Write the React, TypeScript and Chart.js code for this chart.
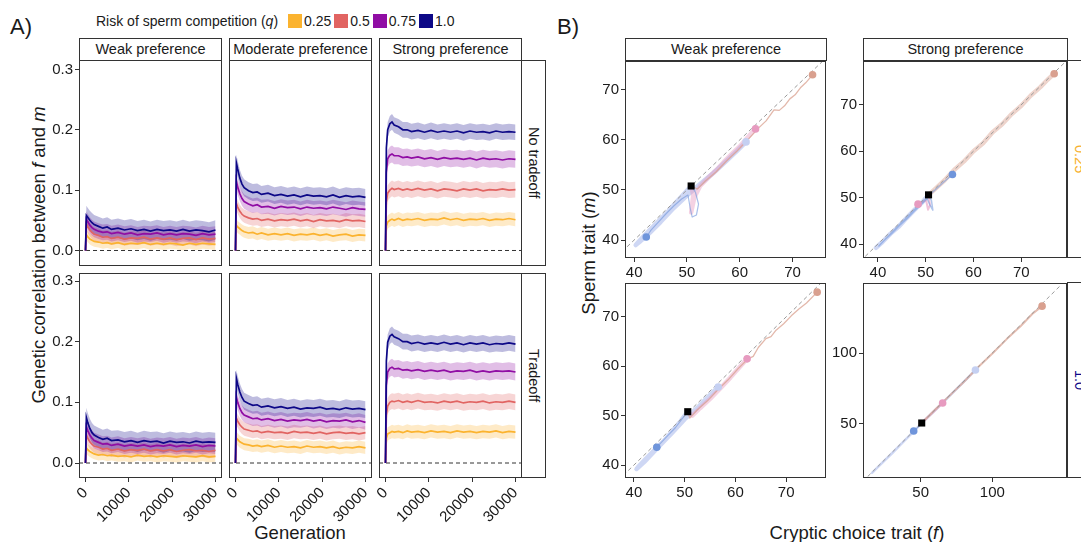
import React, { useEffect, useRef } from 'react';
import { Chart, registerables } from 'chart.js';

Chart.register(...registerables);

// ---------------- data ----------------
const Q_LEVELS = ['0.25', '0.5', '0.75', '1.0'];
const Q_COLORS = ['#FBB32F', '#E16462', '#900DA4', '#0D0887'];
const PREFS_A = ['Weak preference', 'Moderate preference', 'Strong preference'];
const TRADEOFF = ['No tradeoff', 'Tradeoff'];
const PREFS_B = ['Weak preference', 'Strong preference'];
const Q_B = ['0.25', '1.0'];
const Q_B_COLORS = ['#F7B12E', '#0D0887'];

const GEN_TICKS = [0, 10000, 20000, 30000];
const CORR_TICKS = [0, 0.1, 0.2, 0.3];

const GEN = [0, 200, 500, 1000, 1500, 2000, 3000, 4000, 5000, 6000, 7500, 9000, 10500, 12000, 13500, 15000, 16500, 18000, 19500, 21000, 22500, 24000, 25500, 27000, 28500, 30000];

// Weak preference, no tradeoff
const W0_Q25 = [0, .026, .023, .019, .017, .015, .014, .012, .013, .011, .013, .010, .012, .011, .013, .010, .012, .010, .012, .011, .009, .012, .010, .012, .011, .010];
const W0_Q50 = [0, .044, .040, .034, .030, .027, .025, .022, .023, .020, .022, .019, .021, .020, .022, .019, .021, .019, .021, .018, .020, .021, .018, .021, .019, .020];
const W0_Q75 = [0, .052, .048, .042, .038, .035, .032, .030, .031, .028, .030, .027, .029, .026, .028, .027, .029, .026, .028, .026, .028, .027, .025, .028, .026, .027];
const W0_Q100 = [0, .058, .055, .050, .046, .043, .040, .037, .039, .035, .037, .034, .036, .033, .035, .032, .035, .033, .034, .032, .035, .032, .034, .033, .031, .034];
// Weak preference, tradeoff
const W1_Q25 = [0, .025, .022, .019, .017, .015, .013, .014, .012, .013, .011, .012, .010, .013, .011, .012, .010, .012, .011, .010, .012, .011, .010, .012, .010, .011];
const W1_Q50 = [0, .046, .041, .035, .031, .028, .026, .023, .024, .021, .023, .020, .022, .021, .023, .020, .022, .020, .022, .019, .021, .022, .020, .021, .019, .021];
const W1_Q75 = [0, .060, .054, .046, .041, .037, .034, .031, .032, .029, .031, .028, .030, .028, .030, .027, .029, .028, .030, .027, .029, .028, .030, .027, .029, .028];
const W1_Q100 = [0, .075, .067, .057, .050, .046, .042, .039, .041, .037, .038, .035, .037, .034, .037, .035, .036, .033, .036, .034, .035, .033, .036, .034, .035, .034];
// Moderate preference, no tradeoff
const M0_Q25 = [0, .042, .039, .036, .033, .031, .029, .030, .027, .029, .026, .028, .026, .028, .025, .027, .026, .028, .025, .027, .024, .026, .027, .024, .026, .025];
const M0_Q50 = [0, .078, .072, .065, .060, .057, .054, .052, .053, .050, .052, .049, .051, .050, .052, .049, .051, .048, .051, .049, .050, .048, .051, .049, .050, .048];
const M0_Q75 = [0, .115, .105, .094, .086, .081, .077, .074, .076, .072, .073, .070, .073, .071, .072, .069, .072, .070, .071, .069, .072, .070, .068, .071, .069, .068];
const M0_Q100 = [0, .145, .135, .120, .110, .104, .099, .096, .097, .093, .095, .091, .093, .090, .092, .089, .092, .090, .091, .089, .092, .088, .091, .089, .090, .088];
// Moderate preference, tradeoff
const M1_Q25 = [0, .041, .039, .035, .033, .031, .030, .028, .029, .027, .029, .026, .028, .026, .027, .025, .028, .026, .027, .025, .027, .024, .026, .025, .027, .025];
const M1_Q50 = [0, .074, .069, .063, .059, .056, .054, .052, .053, .050, .052, .050, .051, .049, .052, .050, .051, .049, .051, .048, .050, .051, .049, .050, .048, .050];
const M1_Q75 = [0, .109, .100, .090, .083, .079, .076, .073, .074, .071, .073, .070, .072, .069, .071, .070, .072, .069, .071, .068, .070, .069, .071, .068, .070, .067];
const M1_Q100 = [0, .140, .130, .117, .108, .102, .098, .095, .096, .092, .094, .091, .093, .090, .092, .089, .091, .090, .092, .089, .090, .088, .091, .089, .090, .088];
// Strong preference, no tradeoff
const S0_Q25 = [0, .040, .047, .050, .052, .050, .053, .050, .052, .051, .053, .050, .052, .051, .054, .051, .053, .050, .052, .051, .053, .050, .052, .051, .053, .051];
const S0_Q50 = [0, .080, .095, .100, .103, .101, .103, .100, .102, .100, .103, .100, .102, .099, .102, .101, .099, .102, .100, .102, .099, .101, .100, .102, .100, .101];
const S0_Q75 = [0, .130, .152, .158, .160, .157, .157, .154, .155, .153, .155, .152, .154, .151, .154, .152, .153, .151, .153, .150, .153, .151, .152, .150, .152, .151];
const S0_Q100 = [0, .170, .200, .210, .213, .208, .205, .200, .200, .197, .199, .196, .199, .196, .198, .196, .198, .195, .198, .196, .197, .195, .198, .196, .197, .196];
// Strong preference, tradeoff
const S1_Q25 = [0, .041, .048, .050, .052, .051, .052, .050, .053, .051, .052, .050, .053, .051, .052, .050, .053, .051, .052, .050, .052, .051, .053, .050, .052, .051];
const S1_Q50 = [0, .079, .094, .100, .102, .101, .103, .100, .102, .100, .103, .100, .101, .099, .102, .100, .102, .099, .101, .100, .102, .099, .101, .100, .102, .100];
const S1_Q75 = [0, .128, .150, .156, .158, .155, .156, .153, .154, .152, .154, .151, .153, .151, .153, .150, .152, .151, .153, .150, .152, .150, .152, .151, .152, .150];
const S1_Q100 = [0, .168, .199, .209, .212, .208, .205, .200, .200, .197, .199, .196, .198, .196, .199, .196, .198, .195, .198, .196, .198, .195, .197, .196, .198, .196];

// ribbon half widths (q = 0.25, 0.5, 0.75, 1.0)
const W_SD = [0.009, 0.011, 0.013, 0.016];
const M_SD = [0.010, 0.011, 0.012, 0.014];
const S_SD = [0.011, 0.013, 0.014, 0.013];

// Panel B: trajectories (f, m)
const B1_BLUE = [[50.8, 50.8], [51.6, 49.6], [52.2, 47.2], [51.8, 45], [51, 44.6], [50.6, 46.5], [50.2, 49], [49, 48.2], [47.5, 46.8], [46, 45.2], [44.5, 43.5], [43.2, 42], [42.3, 40.6]];
const B1_LBLUE = [[50.8, 50.8], [49.5, 49.3], [48, 47.6], [46.5, 45.8], [45, 44.2], [43.5, 42.6], [42, 41], [40.8, 39.6], [40.3, 39], [41, 39.6], [42.8, 41.3], [45, 43.6], [47.5, 46.4], [50, 48.9], [52.5, 51.2], [55, 53.4], [57.5, 55.8], [59.5, 57.8], [61.2, 59.6]];
const B1_PINK = [[50.8, 50.8], [51.2, 49], [50.8, 45.5], [51.4, 48.5], [52.5, 50.8], [54, 52.4], [55.5, 53.9], [57, 55.6], [58.5, 57.2], [60, 58.7], [61.5, 60.5], [63, 62.2]];
const B1_SALMON = [[50.8, 50.8], [52, 50.2], [53.5, 51.8], [55.5, 53.6], [57.5, 55.8], [59.5, 57.8], [61.5, 60], [63.5, 62.3], [65, 63.8], [66.5, 66], [67.5, 65.9], [68.5, 66.8], [69.5, 68.2], [70.5, 69], [71.5, 70.4], [72.5, 71.4], [73.8, 73]];
const B1_ENDS = [[42.3, 40.6], [61.2, 59.6], [63, 62.2], [73.8, 73]];
const B1_START = [50.8, 50.8];

const B2_BLUE = [[50.6, 50.6], [51.2, 49.4], [51.5, 47.3], [50.9, 48.4], [50.3, 49.8], [49, 48.5], [47.5, 47], [46, 45.4], [44.5, 44], [43, 42.4], [41.5, 41], [40.2, 39.6], [41.8, 41.3], [44, 43.6], [46.5, 46.2], [49, 48.8], [51.5, 51.2], [53.5, 53.1], [55.6, 55]];
const B2_LBLUE = [[50.6, 50.6], [49.2, 48.9], [47.6, 47.3], [46, 45.6], [44.3, 43.7], [42.6, 42.2], [41, 40.5], [39.6, 39.2]];
const B2_PINK = [[50.6, 50.6], [50.9, 48.4], [50.5, 47.4], [50.1, 49.4], [49.4, 49.1], [48.4, 48.6]];
const B2_SALMON = [[50.6, 50.6], [52, 51.9], [54, 53.8], [56, 56], [58, 57.8], [60, 60], [62, 61.7], [64, 64.1], [66, 65.8], [68, 68], [70, 69.8], [72, 72], [74, 73.8], [75.5, 75.4], [76.9, 76.7]];
const B2_ENDS = [[55.6, 55], null, [48.4, 48.6], [76.9, 76.7]];
const B2_START = [50.6, 50.6];

const B3_BLUE = [[50.6, 50.8], [49.6, 49.5], [48.2, 47.6], [46.8, 46.1], [45.5, 44.7], [44.5, 43.6]];
const B3_LBLUE = [[50.6, 50.8], [49.2, 48.9], [47.5, 46.8], [46, 45], [44, 43], [42.3, 41.2], [40.8, 39.6], [40.5, 39.2], [42, 40.6], [44.5, 43.3], [47.5, 46.5], [50, 49.3], [52.5, 51.6], [54.5, 53.7], [56.6, 55.8]];
const B3_PINK = [[50.6, 50.8], [51.5, 50], [53, 51.5], [55, 53.4], [57, 55.5], [59, 57.7], [60.8, 59.8], [62.3, 61.5]];
const B3_SALMON = [[50.6, 50.8], [51, 49.5], [52.5, 51.2], [54.5, 53], [56.5, 55.2], [58.5, 57.2], [60.5, 59.5], [62.5, 61.5], [63.5, 62], [64.5, 63.8], [66, 65.6], [67, 66], [68, 67.3], [69.5, 68.6], [71, 70.2], [72.5, 71.6], [74, 72.8], [76.1, 75]];
const B3_ENDS = [[44.5, 43.6], [56.6, 55.8], [62.3, 61.5], [76.1, 75]];
const B3_START = [50.6, 50.8];

const B4_BLUE = [[50.7, 50.7], [48, 47.6], [45.1, 45.1]];
const B4_LBLUE = [[16, 15.6], [22, 21.5], [30, 29.4], [38, 37.6], [45, 44.6], [50.7, 50.7], [60, 59.7], [70, 69.6], [80, 79.7], [88.2, 88]];
const B4_PINK = [[50.7, 50.7], [55, 54.8], [60, 59.6], [65.3, 64.8]];
const B4_SALMON = [[50.7, 50.7], [60, 60], [70, 69.8], [80, 79.6], [90, 90], [100, 99.6], [110, 109.8], [120, 119.2], [128, 127.6], [134.7, 133]];
const B4_ENDS = [[45.1, 45.1], [88.2, 88], [65.3, 64.8], [134.7, 133]];
const B4_START = [50.7, 50.7];

const B_TICKS_SMALL = [40, 50, 60, 70];
const B_TICKS_LARGE = [50, 100];

// ---------------- styling ----------------
const FONT = "'Liberation Sans', Arial, Helvetica, sans-serif";
const TXT = '#1a1a1a';
const FRAME = '#333333';
const TRAJ_COLORS = ['#6F95DB', '#C5D0F2', '#E79BC0', '#D9A08F']; // blue, light blue, pink, salmon

function rgba(hex: string, a: number) {
  const n = parseInt(hex.slice(1), 16);
  return `rgba(${(n >> 16) & 255},${(n >> 8) & 255},${n & 255},${a})`;
}

const framePlugin = {
  id: 'frame',
  afterDraw(chart: any) {
    const { ctx, chartArea: a } = chart;
    ctx.save();
    ctx.strokeStyle = FRAME;
    ctx.lineWidth = 1;
    ctx.strokeRect(Math.round(a.left) + 0.5, Math.round(a.top) + 0.5, Math.round(a.right - a.left) - 1, Math.round(a.bottom - a.top) - 1);
    ctx.restore();
  },
};

type Axis = { min: number; max: number; ticks: number[]; labels: boolean; marks: boolean; rot?: number; fmt: (v: number) => string };
type PanelDef = { l: number; t: number; w: number; h: number; x: Axis; y: Axis; datasets: any[] };

const ML = 50, MT = 4, MR = 4, MB = 64;

function Panel({ def }: { def: PanelDef }) {
  const ref = useRef<HTMLCanvasElement>(null);
  const W = def.w + ML + MR;
  const H = def.h + MT + MB;
  useEffect(() => {
    const tickFont = { family: FONT, size: 15 };
    const mkScale = (a: Axis, isX: boolean) => ({
      type: 'linear',
      min: a.min,
      max: a.max,
      afterBuildTicks: (s: any) => { s.ticks = a.ticks.map((v) => ({ value: v })); },
      afterFit: (s: any) => {
        if (isX) s.height = MB; else s.width = ML;
        s.paddingLeft = 0; s.paddingRight = 0; s.paddingTop = 0; s.paddingBottom = 0;
      },
      ticks: {
        display: a.labels, autoSkip: false, maxRotation: a.rot || 0, minRotation: a.rot || 0,
        padding: 2, color: TXT, font: tickFont, callback: (v: any) => a.fmt(Number(v)),
      },
      grid: { display: a.marks, drawOnChartArea: false, drawTicks: true, tickLength: 4, color: FRAME, lineWidth: 1 },
      border: { display: false },
    });
    const datasets = def.datasets.map((d, i, arr) => ({ ...d, order: arr.length - i }));
    const chart = new Chart(ref.current as HTMLCanvasElement, {
      type: 'line',
      data: { datasets },
      options: {
        animation: false,
        responsive: false,
        maintainAspectRatio: false,
        events: [],
        layout: { padding: { left: 0, top: MT, right: MR, bottom: 0 } },
        plugins: { legend: { display: false }, tooltip: { enabled: false } },
        scales: { x: mkScale(def.x, true) as any, y: mkScale(def.y, false) as any },
      },
      plugins: [framePlugin],
    });
    return () => chart.destroy();
  }, []);
  return (
    <canvas
      ref={ref}
      width={W}
      height={H}
      style={{ position: 'absolute', left: def.l - ML, top: def.t - MT, width: W, height: H }}
    />
  );
}

// ---------------- panel A ----------------
const A_X_MIN = -1500, A_X_MAX = 31500;
const A_Y = [[-0.0257, 0.3157], [-0.0247, 0.3132]];
const A_COL_L = [79, 229, 379];
const A_ROW_T = [60, 273];
const A_ROW_H = [206, 205];
const A_W = 143;

const A_SERIES = [
  [[W0_Q25, W0_Q50, W0_Q75, W0_Q100], [M0_Q25, M0_Q50, M0_Q75, M0_Q100], [S0_Q25, S0_Q50, S0_Q75, S0_Q100]],
  [[W1_Q25, W1_Q50, W1_Q75, W1_Q100], [M1_Q25, M1_Q50, M1_Q75, M1_Q100], [S1_Q25, S1_Q50, S1_Q75, S1_Q100]],
];
const A_SD = [W_SD, M_SD, S_SD];

function aDatasets(series: number[][], sd: number[]) {
  const ds: any[] = [];
  series.forEach((s, k) => {
    const hw = (i: number) => (GEN[i] === 0 ? 0 : sd[k]);
    ds.push({ data: s.map((v, i) => ({ x: GEN[i], y: v - hw(i) })), borderWidth: 0, borderColor: 'transparent', pointRadius: 0, fill: false });
    ds.push({ data: s.map((v, i) => ({ x: GEN[i], y: v + hw(i) })), borderWidth: 0, borderColor: 'transparent', pointRadius: 0, fill: '-1', backgroundColor: rgba(Q_COLORS[k], 0.27) });
  });
  ds.push({ data: [{ x: A_X_MIN, y: 0 }, { x: A_X_MAX, y: 0 }], borderColor: '#333', borderDash: [4, 3], borderWidth: 1, pointRadius: 0 });
  series.forEach((s, k) => {
    ds.push({ data: s.map((v, i) => ({ x: GEN[i], y: v })), borderColor: Q_COLORS[k], borderWidth: 1.7, pointRadius: 0 });
  });
  return ds;
}

const A_PANELS: PanelDef[] = [];
for (let r = 0; r < 2; r++) {
  for (let c = 0; c < 3; c++) {
    A_PANELS.push({
      l: A_COL_L[c], t: A_ROW_T[r], w: A_W, h: A_ROW_H[r],
      x: { min: A_X_MIN, max: A_X_MAX, ticks: GEN_TICKS, labels: r === 1, marks: r === 1, rot: 45, fmt: (v) => String(v) },
      y: { min: A_Y[r][0], max: A_Y[r][1], ticks: CORR_TICKS, labels: c === 0, marks: c === 0, fmt: (v) => v.toFixed(1) },
      datasets: aDatasets(A_SERIES[r][c], A_SD[c]),
    });
  }
}

// ---------------- panel B ----------------
function bDatasets(trajs: number[][][], ends: (number[] | null)[], start: number[], lo: number, hi: number, widths: number[], alphas: number[]) {
  const ds: any[] = [];
  const drawOrder = [1, 2, 3, 0];
  drawOrder.forEach((k) => {
    ds.push({
      data: trajs[k].map((p) => ({ x: p[0], y: p[1] })),
      borderColor: rgba(TRAJ_COLORS[k], alphas[k]),
      borderWidth: widths[k],
      pointRadius: 0,
      borderJoinStyle: 'round',
      borderCapStyle: 'round',
    });
  });
  ds.push({ data: [{ x: lo, y: lo }, { x: hi, y: hi }], borderColor: '#9a9a9a', borderDash: [4, 3], borderWidth: 1, pointRadius: 0 });
  ends.forEach((p, k) => {
    if (!p) return;
    ds.push({ data: [{ x: p[0], y: p[1] }], showLine: false, pointRadius: 3.8, pointBackgroundColor: TRAJ_COLORS[k], pointBorderWidth: 0, pointBorderColor: TRAJ_COLORS[k] });
  });
  ds.push({ data: [{ x: start[0], y: start[1] }], showLine: false, pointStyle: 'rect', pointRadius: 5, pointBackgroundColor: '#000', pointBorderWidth: 0, pointBorderColor: '#000' });
  return ds;
}

const fmtInt = (v: number) => String(v);
const B_PANELS: PanelDef[] = [
  {
    l: 625, t: 60, w: 202, h: 198,
    x: { min: 38.27, max: 76.35, ticks: B_TICKS_SMALL, labels: true, marks: true, fmt: fmtInt },
    y: { min: 36.42, max: 75.76, ticks: B_TICKS_SMALL, labels: true, marks: true, fmt: fmtInt },
    datasets: bDatasets([B1_BLUE, B1_LBLUE, B1_PINK, B1_SALMON], B1_ENDS, B1_START, 30, 90, [1.2, 4.5, 4.5, 1.3], [0.6, 0.85, 0.45, 0.75]),
  },
  {
    l: 863, t: 60, w: 205, h: 198,
    x: { min: 36.88, max: 79.58, ticks: B_TICKS_SMALL, labels: true, marks: true, fmt: fmtInt },
    y: { min: 37.0, max: 79.43, ticks: B_TICKS_SMALL, labels: true, marks: true, fmt: fmtInt },
    datasets: bDatasets([B2_BLUE, B2_LBLUE, B2_PINK, B2_SALMON], B2_ENDS, B2_START, 30, 90, [1.5, 4.5, 2, 4.5], [0.55, 0.85, 0.6, 0.45]),
  },
  {
    l: 625, t: 282, w: 202, h: 196,
    x: { min: 38.24, max: 77.84, ticks: B_TICKS_SMALL, labels: true, marks: true, fmt: fmtInt },
    y: { min: 37.38, max: 76.85, ticks: B_TICKS_SMALL, labels: true, marks: true, fmt: fmtInt },
    datasets: bDatasets([B3_BLUE, B3_LBLUE, B3_PINK, B3_SALMON], B3_ENDS, B3_START, 30, 90, [1.2, 4.5, 4.5, 1.3], [0.6, 0.85, 0.45, 0.75]),
  },
  {
    l: 863, t: 282, w: 205, h: 196,
    x: { min: 9.72, max: 152.1, ticks: B_TICKS_LARGE, labels: true, marks: true, fmt: fmtInt },
    y: { min: 11.97, max: 149.3, ticks: B_TICKS_LARGE, labels: true, marks: true, fmt: fmtInt },
    datasets: bDatasets([B4_BLUE, B4_LBLUE, B4_PINK, B4_SALMON], B4_ENDS, B4_START, 13, 148, [1.2, 2.5, 2.5, 2], [0.6, 0.85, 0.45, 0.7]),
  },
];

// ---------------- html helpers ----------------
function Strip({ l, t, w, h, vertical, color, children }: any) {
  return (
    <div
      style={{
        position: 'absolute', left: l, top: t, width: w, height: h, boxSizing: 'border-box',
        border: `1px solid ${FRAME}`, background: '#fff', display: 'flex', alignItems: 'center',
        justifyContent: 'center', fontSize: 14.5, color: color || TXT, whiteSpace: 'nowrap',
        writingMode: vertical ? 'vertical-rl' : 'horizontal-tb', lineHeight: 1,
      }}
    >
      {children}
    </div>
  );
}

function Label({ cx, cy, size, rot = 0, children }: any) {
  return (
    <div
      style={{
        position: 'absolute', left: cx, top: cy, transform: `translate(-50%, -50%) rotate(${rot}deg)`,
        fontSize: size, lineHeight: 1, whiteSpace: 'nowrap', color: TXT,
      }}
    >
      {children}
    </div>
  );
}

export default function App() {
  return (
    <div
      style={{
        position: 'absolute', left: 0, top: 0, width: 1081, height: 542, overflow: 'hidden',
        background: '#fff', fontFamily: FONT, color: TXT,
      }}
    >
      {/* panel letters */}
      <div style={{ position: 'absolute', left: 10, top: 16, fontSize: 22, lineHeight: 1 }}>A)</div>
      <div style={{ position: 'absolute', left: 557, top: 16, fontSize: 22, lineHeight: 1 }}>B)</div>

      {/* legend */}
      <div style={{ position: 'absolute', left: 96, top: 13, height: 16, display: 'flex', alignItems: 'center', fontSize: 14, lineHeight: 1 }}>
        <span style={{ marginRight: 10 }}>Risk of sperm competition (<i>q</i>)</span>
        {Q_LEVELS.map((q, k) => (
          <span key={q} style={{ display: 'flex', alignItems: 'center', marginRight: 3 }}>
            <span style={{ width: 14, height: 14, background: Q_COLORS[k], display: 'inline-block', marginRight: 2 }} />
            <span>{q}</span>
          </span>
        ))}
      </div>

      {/* axis titles */}
      <Label cx={39} cy={255} size={18.5} rot={-90}>Genetic correlation between <i>f</i> and <i>m</i></Label>
      <Label cx={300} cy={533} size={18.5}>Generation</Label>
      <Label cx={589} cy={253} size={18.5} rot={-90}>Sperm trait (<i>m</i>)</Label>
      <Label cx={857} cy={533} size={18.5}>Cryptic choice trait (<i>f</i>)</Label>

      {/* strips A */}
      {PREFS_A.map((p, c) => (
        <Strip key={p} l={A_COL_L[c]} t={38} w={A_W} h={23}>{p}</Strip>
      ))}
      {TRADEOFF.map((t, r) => (
        <Strip key={t} l={521} t={A_ROW_T[r]} w={25} h={A_ROW_H[r]} vertical>{t}</Strip>
      ))}

      {/* strips B */}
      <Strip l={625} t={38} w={202} h={23}>{PREFS_B[0]}</Strip>
      <Strip l={863} t={38} w={205} h={23}>{PREFS_B[1]}</Strip>
      <Strip l={1067} t={60} w={25} h={198} vertical color={Q_B_COLORS[0]}>{Q_B[0]}</Strip>
      <Strip l={1067} t={282} w={25} h={196} vertical color={Q_B_COLORS[1]}>{Q_B[1]}</Strip>

      {A_PANELS.map((d, i) => <Panel key={'a' + i} def={d} />)}
      {B_PANELS.map((d, i) => <Panel key={'b' + i} def={d} />)}
    </div>
  );
}
